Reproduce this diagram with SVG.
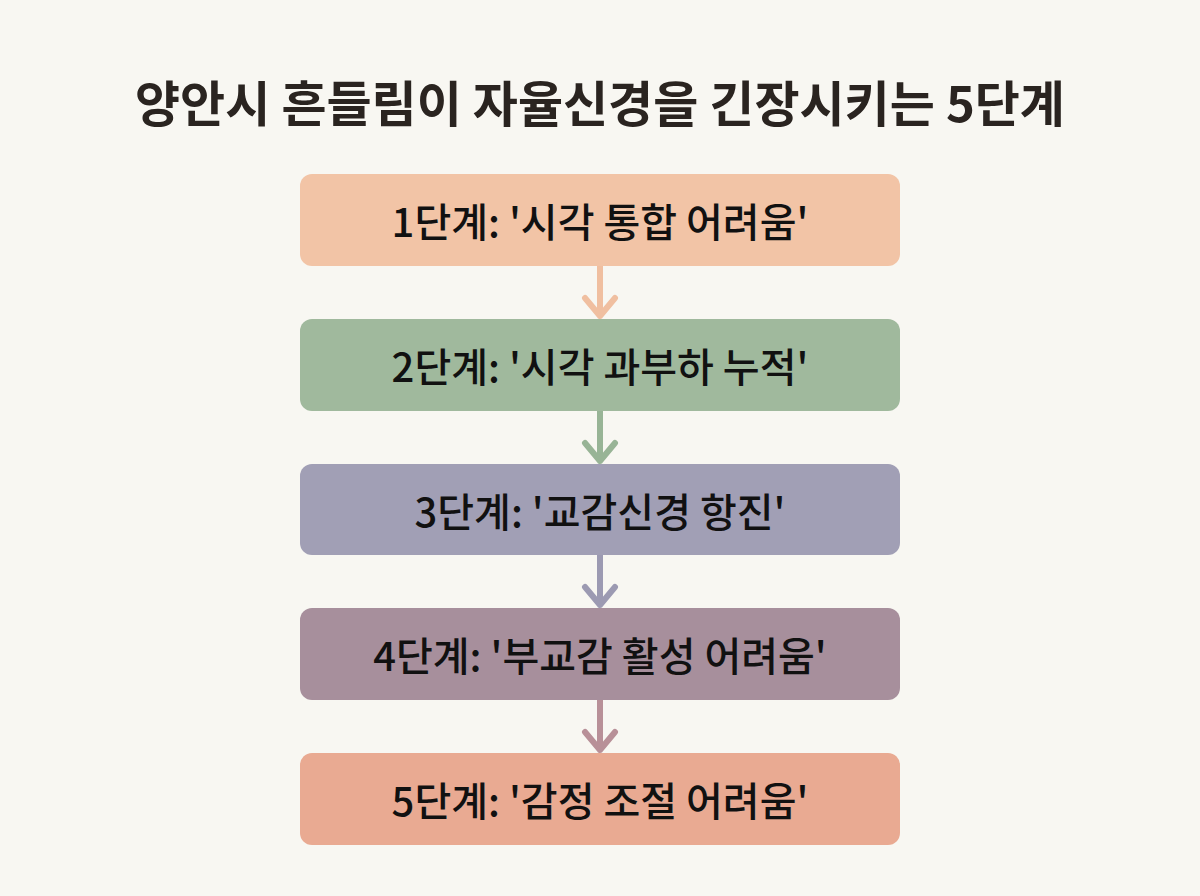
<svg xmlns="http://www.w3.org/2000/svg" width="1200" height="896" viewBox="0 0 1200 896">
<defs>
<style>
.title{font-family:"Noto Sans CJK KR","Noto Sans",sans-serif;font-weight:700;font-size:49px;fill:#2a2420;}
.lbl{font-family:"Noto Sans CJK KR","Noto Sans",sans-serif;font-weight:500;font-size:40px;fill:#111;}
.conn{fill:none;stroke-width:6;stroke-linecap:round;stroke-linejoin:round;}
</style>
</defs>
<rect width="1200" height="896" fill="#F8F7F2"/>
<text class="title" x="600" y="100" text-anchor="middle" dominant-baseline="central">양안시 흔들림이 자율신경을 긴장시키는 5단계</text>
<g id="connectors">
<path class="conn" stroke="#F0BFA0" d="M600 266 V316 M585 298 L600 316 L615 298"/>
<path class="conn" stroke="#98B496" d="M600 411 V461 M585 443 L600 461 L615 443"/>
<path class="conn" stroke="#9C9AB2" d="M600 555 V605 M585 587 L600 605 L615 587"/>
<path class="conn" stroke="#B89098" d="M600 700 V750 M585 732 L600 750 L615 732"/>
</g>
<g id="step1"><rect x="300" y="174" width="600" height="92" rx="12" fill="#F2C4A6"/><text class="lbl" x="600" y="220" text-anchor="middle" dominant-baseline="central">1단계: '시각 통합 어려움'</text></g>
<g id="step2"><rect x="300" y="319" width="600" height="92" rx="12" fill="#A0B99D"/><text class="lbl" x="600" y="365" text-anchor="middle" dominant-baseline="central">2단계: '시각 과부하 누적'</text></g>
<g id="step3"><rect x="300" y="464" width="600" height="91" rx="12" fill="#A19FB5"/><text class="lbl" x="600" y="510" text-anchor="middle" dominant-baseline="central">3단계: '교감신경 항진'</text></g>
<g id="step4"><rect x="300" y="608" width="600" height="92" rx="12" fill="#A78F9C"/><text class="lbl" x="600" y="654" text-anchor="middle" dominant-baseline="central">4단계: '부교감 활성 어려움'</text></g>
<g id="step5"><rect x="300" y="753" width="600" height="92" rx="12" fill="#E9AA92"/><text class="lbl" x="600" y="799" text-anchor="middle" dominant-baseline="central">5단계: '감정 조절 어려움'</text></g>
</svg>
